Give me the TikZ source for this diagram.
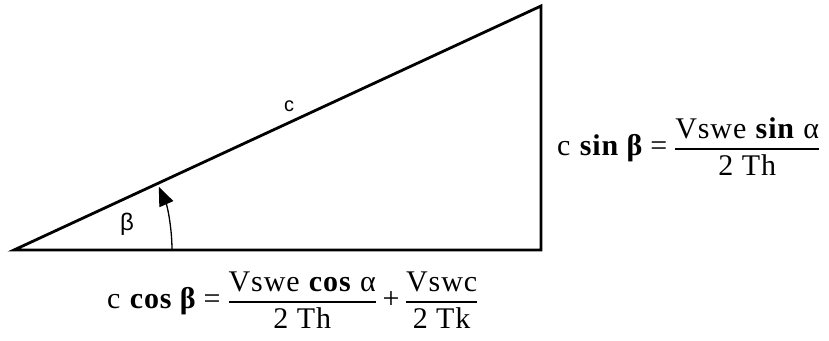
\documentclass[tikz,border=0pt]{standalone}
\usepackage{amsmath}
\usepackage{fontspec}
\setmainfont{Liberation Serif}[LetterSpace=3]
\newfontfamily\labelfont{Liberation Sans}
\usetikzlibrary{arrows.meta}
\newcommand{\frc}[2]{\genfrac{}{}{1.6pt}{0}{\mbox{#1}}{\mbox{#2}}}
\begin{document}
\begin{tikzpicture}[x=1pt,y=-1pt,
  side/.style={line width=2.8pt,line cap=round,line join=miter},
  angarrow/.style={line width=1.3pt,-{Triangle[length=19pt,width=15pt]}},
  lbl/.style={inner sep=0pt,font=\labelfont\fontsize{#1}{#1}\selectfont},
  eqn/.style={inner sep=0pt,anchor=base west,font=\fontsize{30}{34}\selectfont}]
  \useasboundingbox (0,0) rectangle (829,340);
  % Triangle
  \coordinate (A) at (14,250);
  \coordinate (B) at (541,250);
  \coordinate (C) at (541,6);
  \draw[side] (A) -- (B) -- (C) -- cycle;
  % Angle beta
  \draw[angarrow] (172,250) arc[start angle=0,end angle=-23.6,radius=158];
  \node[lbl=24] (beta) at (127,224) {β};
  \node[lbl=20] (hyp) at (289,106) {c};
  % Equations
  \node[eqn] (eqsin) at (557,155)
    {$\displaystyle \mbox{c \textbf{sin β}} \mathrel{\mbox{=}} \frc{Vswe \textbf{sin} α}{2 Th}$};
  \node[eqn] (eqcos) at (107,308)
    {$\displaystyle \mbox{c \textbf{cos β}} \mathrel{\mbox{=}} \frc{Vswe \textbf{cos} α}{2 Th}
      \mathbin{\mbox{+}} \frc{Vswc}{2 Tk}$};
\end{tikzpicture}
\end{document}
